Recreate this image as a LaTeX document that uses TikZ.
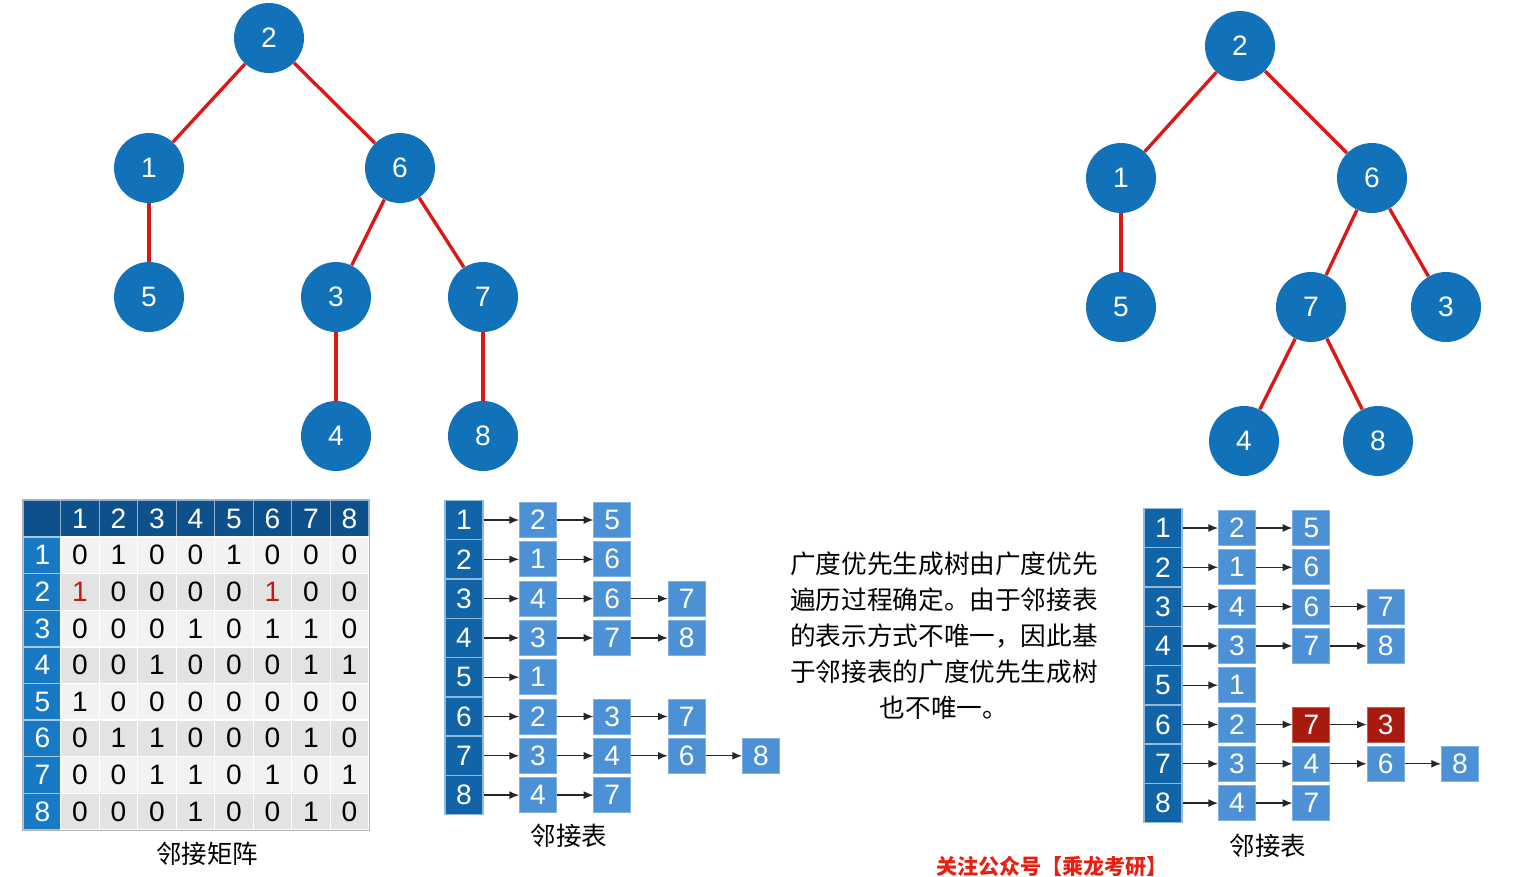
\documentclass[tikz,border=0pt]{standalone}
\usepackage{fontspec}
\setmainfont{Liberation Sans}
\newfontfamily\cjk{Noto Sans CJK SC}
\usetikzlibrary{arrows.meta}
\definecolor{treeblue}{RGB}{17,114,186}
\definecolor{edgered}{RGB}{218,24,24}
\definecolor{hddark}{RGB}{13,80,140}
\definecolor{hdrow}{RGB}{24,122,196}
\definecolor{listhead}{RGB}{18,100,168}
\definecolor{listcell}{RGB}{76,145,214}
\definecolor{listred}{RGB}{168,26,16}
\definecolor{matred}{RGB}{200,20,20}
\definecolor{footred}{RGB}{232,32,20}
\newcommand{\redone}{\textcolor{matred}{1}}
\tikzset{
  tree node/.style={
    circle, fill=treeblue, text=white,
    minimum size=1.4cm, inner sep=0pt,
    font=\fontsize{16}{18}\selectfont
  },
  tree edge/.style={
    draw=edgered, line width=1.9pt
  },
  mat cell/.style={
    rectangle, draw=white, line width=0.8pt,
    minimum width=0.77cm, minimum height=0.732cm,
    inner sep=0pt, font=\fontsize{16}{18}\selectfont
  },
  mat head/.style={
    mat cell, fill=hddark, text=white, draw=white!55!hddark,
    minimum height=0.74cm
  },
  mat row/.style={
    mat cell, fill=hdrow, text=white, draw=white!60!hdrow,
    minimum width=0.78cm
  },
  list head/.style={
    rectangle, fill=listhead, draw=white!55!listhead, line width=0.8pt,
    text=white, minimum width=0.76cm, minimum height=0.786cm,
    inner sep=0pt, font=\fontsize{16}{18}\selectfont
  },
  list cell/.style={
    rectangle, line width=0.5pt, text=white,
    minimum width=0.74cm, minimum height=0.7cm,
    inner sep=0pt, font=\fontsize{16}{18}\selectfont
  },
  list arrow/.style={
    -{Latex[length=5.5pt,width=4.5pt]}, line width=0.7pt, draw=black!85
  },
  cap label/.style={
    font=\cjk\fontsize{14.5}{16}\selectfont
  }
}

\begin{document}
\begin{tikzpicture}[x=0.02cm, y=-0.02cm,
  desc text/.style={font=\cjk\fontsize{14.6}{20.5}\selectfont, align=center},
  foot text/.style={font=\cjk\bfseries\fontsize{12}{14}\selectfont, text=footred},
]
\useasboundingbox[fill=white] (0,0) rectangle (1524,876);

% ====== LEFT TREE ======
\node[tree node] (a2) at (269,38) {2};
\node[tree node] (a1) at (149,168) {1};
\node[tree node] (a6) at (400,168) {6};
\node[tree node] (a5) at (149,297) {5};
\node[tree node] (a3) at (336,297) {3};
\node[tree node] (a7) at (483,297) {7};
\node[tree node] (a4) at (336,436) {4};
\node[tree node] (a8) at (483,436) {8};
\draw[tree edge] (a2) -- (a1);
\draw[tree edge] (a2) -- (a6);
\draw[tree edge] (a1) -- (a5);
\draw[tree edge] (a6) -- (a3);
\draw[tree edge] (a6) -- (a7);
\draw[tree edge] (a3) -- (a4);
\draw[tree edge] (a7) -- (a8);

% ====== RIGHT TREE ======
\node[tree node] (b2) at (1240,46) {2};
\node[tree node] (b1) at (1121,178) {1};
\node[tree node] (b6) at (1372,178) {6};
\node[tree node] (b5) at (1121,307) {5};
\node[tree node] (b7) at (1311,307) {7};
\node[tree node] (b3) at (1446,307) {3};
\node[tree node] (b4) at (1244,441) {4};
\node[tree node] (b8) at (1378,441) {8};
\draw[tree edge] (b2) -- (b1);
\draw[tree edge] (b2) -- (b6);
\draw[tree edge] (b1) -- (b5);
\draw[tree edge] (b6) -- (b7);
\draw[tree edge] (b6) -- (b3);
\draw[tree edge] (b7) -- (b4);
\draw[tree edge] (b7) -- (b8);

% ====== ADJACENCY MATRIX ======
\node[mat head, minimum width=0.78cm] (mh0) at (42.5,518.5) {};
\foreach \c in {1,...,8}
  \node[mat head] (mh\c) at ({80+38.5*(\c-1)},518.5) {\c};
\foreach \r/\rowvals in {1/{0,1,0,0,1,0,0,0}, 2/{\redone,0,0,0,0,\redone,0,0},
    3/{0,0,0,1,0,1,1,0}, 4/{0,0,1,0,0,0,1,1}, 5/{1,0,0,0,0,0,0,0},
    6/{0,1,1,0,0,0,1,0}, 7/{0,0,1,1,0,1,0,1}, 8/{0,0,0,1,0,0,1,0}} {
  \node[mat row] (mr\r) at (42.5,{555.3+36.6*(\r-1)}) {\r};
  \ifodd\r \def\cellfill{black!5}\else \def\cellfill{black!11}\fi
  \foreach \v [count=\c] in \rowvals
    \node[mat cell, fill=\cellfill] (m\r-\c) at ({80+38.5*(\c-1)},{555.3+36.6*(\r-1)}) {\v};
}
\draw[black!30, line width=0.5pt] (mh0.north west) rectangle (m8-8.south east);
\node[cap label] (matcap) at (207,854) {邻接矩阵};

% ====== LEFT ADJACENCY LIST ======
\foreach \i/\lst in {1/{2,5}, 2/{1,6}, 3/{4,6,7}, 4/{3,7,8},
    5/{1}, 6/{2,3,7}, 7/{3,4,6,8}, 8/{4,7}} {
  \node[list head] (lh\i) at (464,{520+39.3*(\i-1)}) {\i};
  \foreach \v [count=\k] in \lst {
    \node[list cell, fill=listcell, draw=white!30!listcell] (lh\i-\k) at ({538+74.3*(\k-1)},{520+39.3*(\i-1)}) {\v};
    \ifnum\k=1 \draw[list arrow] (lh\i) -- (lh\i-\k);
    \else \pgfmathtruncatemacro\pk{\k-1}\draw[list arrow] (lh\i-\pk) -- (lh\i-\k);
    \fi
  }
}
\node[cap label] (lcap) at (569,836) {邻接表};

% ====== DESCRIPTION ======
\node[desc text] (desc) at (944,636) {广度优先生成树由广度优先\\遍历过程确定。由于邻接表\\的表示方式不唯一，因此基\\于邻接表的广度优先生成树\\也不唯一。};

% ====== RIGHT ADJACENCY LIST ======
\foreach \i/\lst in {1/{2,5}, 2/{1,6}, 3/{4,6,7}, 4/{3,7,8},
    5/{1}, 6/{2,7,3}, 7/{3,4,6,8}, 8/{4,7}} {
  \node[list head] (rh\i) at (1163,{528+39.3*(\i-1)}) {\i};
  \foreach \v [count=\k] in \lst {
    \def\cellcol{listcell}
    \ifnum\i=6 \ifnum\k>1 \def\cellcol{listred}\fi\fi
    \node[list cell, fill=\cellcol, draw=white!30!\cellcol] (rh\i-\k) at ({1237+74.3*(\k-1)},{528+39.3*(\i-1)}) {\v};
    \ifnum\k=1 \draw[list arrow] (rh\i) -- (rh\i-\k);
    \else \pgfmathtruncatemacro\pk{\k-1}\draw[list arrow] (rh\i-\pk) -- (rh\i-\k);
    \fi
  }
}
\node[cap label] (rcap) at (1268,846) {邻接表};

\node[foot text] (foot) at (1052,866) {关注公众号【乘龙考研】};

\end{tikzpicture}
\end{document}
